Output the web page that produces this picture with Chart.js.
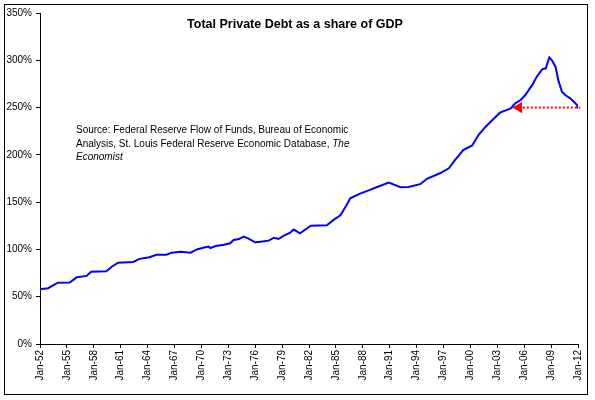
<!DOCTYPE html>
<html>
<head>
<meta charset="utf-8">
<script src="https://cdn.jsdelivr.net/npm/chart.js@4/dist/chart.umd.min.js"></script>
<style>
  body { margin: 0; background: #fff; }
  #wrap { width: 595px; height: 400px; }
</style>
</head>
<body>
<div id="wrap"><canvas id="debt-chart" width="595" height="400"></canvas></div>
<script>
// Quarterly series at the points where it bends
const years = [1952, 1952.9, 1954.0, 1955.3, 1956.1, 1957.2, 1957.7, 1959.4, 1960.0, 1960.7,
  1962.4, 1963.1, 1964.2, 1965.0, 1966.1, 1966.7, 1967.7, 1968.8, 1969.5, 1970.3,
  1970.8, 1971.0, 1971.6, 1972.5, 1973.2, 1973.6, 1974.2, 1974.7, 1975.2, 1976.0,
  1976.6, 1977.5, 1978.1, 1978.6, 1979.2, 1979.9, 1980.3, 1981.0, 1982.2, 1984.0,
  1984.7, 1985.5, 1986.2, 1986.6, 1987.7, 1988.8, 1989.6, 1990.9, 1992.2, 1993.1,
  1994.4, 1995.2, 1996.6, 1997.6, 1998.3, 1999.2, 2000.2, 2000.9, 2001.7, 2002.8,
  2003.3, 2004.5, 2005.0, 2005.6, 2006.1, 2006.9, 2007.4, 2008.0, 2008.4, 2008.8,
  2009.1, 2009.5, 2009.8, 2010.2, 2010.6, 2011.1, 2011.9, 2012.0];

const debtShare = [57.8, 59, 64.8, 65, 70.5, 72, 76.5, 77, 81.7, 86,
  86.7, 90, 91.7, 94.4, 94.5, 96.6, 97.6, 96.6, 100, 102,
  103, 101.5, 103.6, 105, 106.5, 110, 111, 113.5, 111.7, 107.5,
  108.2, 109.3, 112.4, 111, 114.5, 117.7, 121, 117, 125, 125.5,
  131, 136, 147, 154, 159, 163, 166, 170.6, 165.7, 166,
  169, 175, 180.5, 185.8, 194.6, 205, 210, 221, 229.8, 240,
  244.6, 249, 254.5, 258, 263, 274, 282.6, 290.4, 291.5, 303,
  300, 293, 279, 267, 263, 260, 252.7, 249];

// Red dotted arrow back to the 2005 level
const arrowYears = [2005.4, 2012.25];
const arrowLevel = [250, 250];

const tickLabels = ['Jan-52', 'Jan-55', 'Jan-58', 'Jan-61', 'Jan-64', 'Jan-67', 'Jan-70',
  'Jan-73', 'Jan-76', 'Jan-79', 'Jan-82', 'Jan-85', 'Jan-88', 'Jan-91', 'Jan-94',
  'Jan-97', 'Jan-00', 'Jan-03', 'Jan-06', 'Jan-09', 'Jan-12'];

const titleText = 'Total Private Debt as a share of GDP';
const sourceLines = [
  [['Source: Federal Reserve Flow of Funds, Bureau of Economic', false]],
  [['Analysis, St. Louis Federal Reserve Economic Database, ', false], ['The', true]],
  [['Economist', true]]
];

const FONT = 'Arial, "Liberation Sans", sans-serif';

// frame, title and source note
const decorPlugin = {
    id: 'decor',
    afterDraw(chart) {
        const ctx = chart.ctx;
        ctx.save();
        ctx.strokeStyle = '#000';
        ctx.lineWidth = 1;
        ctx.strokeRect(4.5, 4.5, 583, 390);

        ctx.fillStyle = '#000';
        ctx.textAlign = 'center';
        ctx.textBaseline = 'alphabetic';
        ctx.font = 'bold 12.5px ' + FONT;
        ctx.fillText(titleText, 295, 28);

        ctx.textAlign = 'left';
        sourceLines.forEach((parts, i) => {
            let x = 76;
            const y = 133 + i * 13.5;
            parts.forEach(([txt, italic]) => {
                ctx.font = (italic ? 'italic ' : '') + '10px ' + FONT;
                ctx.fillText(txt, x, y);
                x += ctx.measureText(txt).width;
            });
        });
        ctx.restore();
    }
};

const ctx = document.getElementById('debt-chart').getContext('2d');
new Chart(ctx, {
    type: 'line',
    data: {
        datasets: [{
            data: years.map((y, i) => ({ x: y, y: debtShare[i] })),
            borderColor: '#0000FF',
            borderWidth: 2,
            pointRadius: 0,
            tension: 0
        }, {
            data: arrowYears.map((y, i) => ({ x: y, y: arrowLevel[i] })),
            borderColor: '#FF0000',
            backgroundColor: '#FF0000',
            borderWidth: 2,
            borderDash: [2, 2],
            pointStyle: 'triangle',
            rotation: -90,
            pointRadius: [4.5, 0],
            clip: false,
            tension: 0
        }]
    },
    options: {
        responsive: false,
        animation: false,
        layout: { padding: { left: 5, right: 17, top: 13, bottom: 10 } },
        plugins: {
            legend: { display: false },
            tooltip: { enabled: false }
        },
        scales: {
            x: {
                type: 'linear',
                min: 1952,
                max: 2012,
                afterFit: (s) => { s.height = 46; },
                afterBuildTicks: (s) => {
                    s.ticks = tickLabels.map((_, i) => ({ value: 1952 + i * 3 }));
                },
                ticks: {
                    autoSkip: false,
                    maxRotation: 90,
                    minRotation: 90,
                    padding: 2,
                    color: '#000',
                    font: { family: FONT, size: 10 },
                    callback: (v) => tickLabels[Math.round((v - 1952) / 3)]
                },
                grid: { drawOnChartArea: false, drawTicks: true, tickLength: 4, color: '#000' },
                border: { display: true, color: '#000', width: 1 }
            },
            y: {
                min: 0,
                max: 350,
                afterFit: (s) => { s.width = 35; },
                ticks: {
                    stepSize: 50,
                    padding: 4,
                    color: '#000',
                    font: { family: FONT, size: 10 },
                    callback: (v) => v + '%'
                },
                grid: { drawOnChartArea: false, drawTicks: true, tickLength: 4, color: '#000' },
                border: { display: true, color: '#000', width: 1 }
            }
        }
    },
    plugins: [decorPlugin]
});
</script>
</body>
</html>
